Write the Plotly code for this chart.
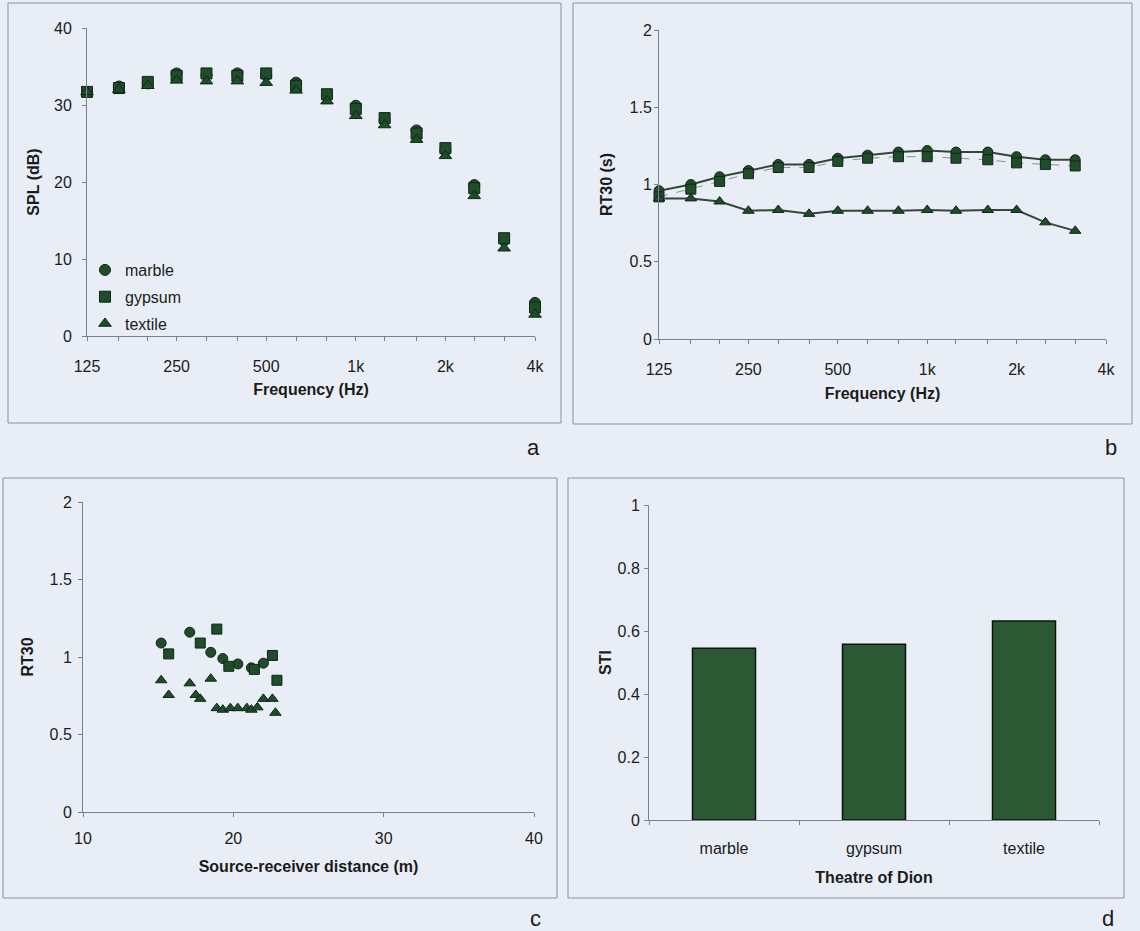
import plotly.graph_objects as go
import numpy as np

# ---------------- data ----------------
freq_a = [125, 160, 200, 250, 315, 400, 500, 630, 800, 1000, 1250, 1600, 2000, 2500, 3150, 4000]
freq_labels = ["125", "", "", "250", "", "", "500", "", "", "1k", "", "", "2k", "", "", "4k"]

spl_marble = [31.7, 32.4, 32.8, 34.1, 33.9, 34.1, 33.9, 32.9, 31.2, 29.9, 28.0, 26.7, 24.1, 19.6, 12.4, 4.3]
spl_gypsum = [31.7, 32.2, 33.0, 33.8, 34.1, 33.8, 34.1, 32.5, 31.4, 29.5, 28.3, 26.3, 24.4, 19.2, 12.7, 3.7]
spl_textile = [31.7, 32.0, 32.5, 33.2, 33.1, 33.1, 32.9, 31.9, 30.5, 28.6, 27.4, 25.5, 23.4, 18.2, 11.4, 2.8]

freq_b = [125, 160, 200, 250, 315, 400, 500, 630, 800, 1000, 1250, 1600, 2000, 2500, 3150]
rt_marble = [0.96, 1.00, 1.05, 1.09, 1.13, 1.13, 1.17, 1.19, 1.21, 1.22, 1.21, 1.21, 1.18, 1.16, 1.16]
rt_gypsum = [0.92, 0.97, 1.02, 1.07, 1.11, 1.11, 1.15, 1.17, 1.18, 1.18, 1.17, 1.16, 1.14, 1.13, 1.12]
rt_textile = [0.91, 0.91, 0.89, 0.83, 0.835, 0.81, 0.83, 0.83, 0.83, 0.835, 0.83, 0.835, 0.835, 0.755, 0.70]

dist_marble = [15.2, 17.1, 18.5, 19.3, 20.3, 21.2, 22.0]
rtc_marble = [1.09, 1.16, 1.03, 0.99, 0.955, 0.93, 0.96]
dist_gypsum = [15.7, 17.8, 18.9, 19.7, 21.4, 22.6, 22.9]
rtc_gypsum = [1.02, 1.09, 1.18, 0.94, 0.92, 1.01, 0.85]
dist_textile = [15.2, 15.7, 17.1, 17.5, 17.8, 18.5, 18.9, 19.3, 19.8, 20.3, 20.9, 21.2, 21.6, 22.0, 22.6, 22.8]
rtc_textile = [0.85, 0.755, 0.83, 0.755, 0.73, 0.86, 0.67, 0.66, 0.67, 0.67, 0.67, 0.66, 0.675, 0.73, 0.73, 0.64]

sti_cats = ["marble", "gypsum", "textile"]
sti_vals = [0.545, 0.558, 0.632]

# ---------------- style ----------------
W, H = 1140, 931
BG = "#e9eef6"
AX = "#7c7f93"
TXT = "#1b1b1b"
FONT = "Liberation Sans, Arial, sans-serif"
MK = "#1f4d2a"
MKL = "#0e2716"


def px(x):
    return x / W


def py(y):
    return 1 - y / H


def axis(**kw):
    d = dict(showline=True, linecolor=AX, linewidth=1, ticks="outside", ticklen=4,
             tickcolor=AX, showgrid=False, zeroline=False, automargin=False,
             tickfont=dict(size=16, color=TXT, family=FONT))
    d.update(kw)
    return d


def title(text, standoff):
    return dict(text="<b>%s</b>" % text, font=dict(size=16, color=TXT, family=FONT), standoff=standoff)


fig = go.Figure()

sym = {"marble": "circle", "gypsum": "square", "textile": "triangle-up"}

# panel a
for name, vals in [("marble", spl_marble), ("gypsum", spl_gypsum), ("textile", spl_textile)]:
    fig.add_trace(go.Scatter(x=freq_a, y=vals, mode="markers", name=name, legendgroup=name,
                             marker=dict(symbol=sym[name], size=11, color=MK, line=dict(color=MKL, width=1)),
                             xaxis="x", yaxis="y", cliponaxis=False))

# panel b
line_style = {"marble": dict(color="#34463a", width=2),
              "gypsum": dict(color="#7f9688", width=1, dash="dash"),
              "textile": dict(color="#34463a", width=2)}
for name, vals in [("marble", rt_marble), ("gypsum", rt_gypsum), ("textile", rt_textile)]:
    fig.add_trace(go.Scatter(x=freq_b, y=vals, mode="lines+markers", name=name, showlegend=False,
                             line=line_style[name],
                             marker=dict(symbol=sym[name], size=10, color=MK, line=dict(color=MKL, width=1)),
                             xaxis="x2", yaxis="y2", cliponaxis=False))

# panel c
for name, xs, ys in [("marble", dist_marble, rtc_marble), ("gypsum", dist_gypsum, rtc_gypsum),
                     ("textile", dist_textile, rtc_textile)]:
    fig.add_trace(go.Scatter(x=xs, y=ys, mode="markers", name=name, showlegend=False,
                             marker=dict(symbol=sym[name], size=10, color=MK, line=dict(color=MKL, width=1)),
                             xaxis="x3", yaxis="y3"))

# panel d
fig.add_trace(go.Bar(x=sti_cats, y=sti_vals, showlegend=False,
                     marker=dict(color="#2a5934", line=dict(color="#0b150d", width=1.5)),
                     xaxis="x4", yaxis="y4"))

lr = [np.log10(125), np.log10(4000)]

fig.update_layout(
    template="none",
    width=W, height=H, margin=dict(l=0, r=0, t=0, b=0, pad=0, autoexpand=False),
    paper_bgcolor=BG, plot_bgcolor=BG,
    font=dict(family=FONT, color=TXT),
    bargap=0.58,
    showlegend=True,
    legend=dict(x=px(85), y=py(253), xanchor="left", yanchor="top", bgcolor="rgba(0,0,0,0)",
                font=dict(size=16, color=TXT, family=FONT), tracegroupgap=3, itemwidth=30),
    xaxis=axis(domain=[px(87), px(535)], anchor="y", type="log", range=lr,
               tickvals=freq_a, ticktext=freq_labels, ticklabelstandoff=12,
               title=title("Frequency (Hz)", 9)),
    yaxis=axis(domain=[py(336), py(28)], anchor="x", range=[0, 40], dtick=10,
               ticklabelstandoff=7, title=title("SPL (dB)", 10)),
    xaxis2=axis(domain=[px(659), px(1106)], anchor="y2", type="log", range=lr,
                tickvals=freq_a, ticktext=freq_labels, ticklabelstandoff=12,
                title=title("Frequency (Hz)", 10)),
    yaxis2=axis(domain=[py(339), py(30)], anchor="x2", range=[0, 2], dtick=0.5,
                ticklabelstandoff=-1, title=title("RT30 (s)", 12)),
    xaxis3=axis(domain=[px(83), px(534)], anchor="y3", range=[10, 40], dtick=10,
                ticklabelstandoff=8, title=title("Source-receiver distance (m)", 14)),
    yaxis3=axis(domain=[py(812), py(502)], anchor="x3", range=[0, 2], dtick=0.5,
                ticklabelstandoff=3, title=title("RT30", 11)),
    xaxis4=axis(domain=[px(649), px(1099)], anchor="y4", ticks="outside", tickson="boundaries",
                ticklabelstandoff=14, title=title("Theatre of Dion", 15)),
    yaxis4=axis(domain=[py(820), py(505)], anchor="x4", range=[0, 1], dtick=0.2,
                ticklabelstandoff=1, title=title("STI", 1)),
)

# panel frames
frames = [(8, 3, 561, 423), (573, 3, 1132, 424), (3, 478, 557, 898), (568, 478, 1124, 898)]
for x0, y0, x1, y1 in frames:
    fig.add_shape(type="rect", xref="paper", yref="paper", x0=px(x0), x1=px(x1), y0=py(y1), y1=py(y0),
                  line=dict(color="#8d90a3", width=1), fillcolor="rgba(0,0,0,0)", layer="below")

# panel letters
for lab, x, y in [("a", 533, 447), ("b", 1111, 447), ("c", 535, 918), ("d", 1108, 918)]:
    fig.add_annotation(text=lab, x=px(x), y=py(y), xref="paper", yref="paper", showarrow=False,
                       font=dict(size=22, color=TXT, family=FONT), xanchor="center", yanchor="middle")

fig.write_html("out.html", config=dict(displayModeBar=False),
               post_script="document.body.style.margin='0px';document.body.style.background='%s';" % BG)
